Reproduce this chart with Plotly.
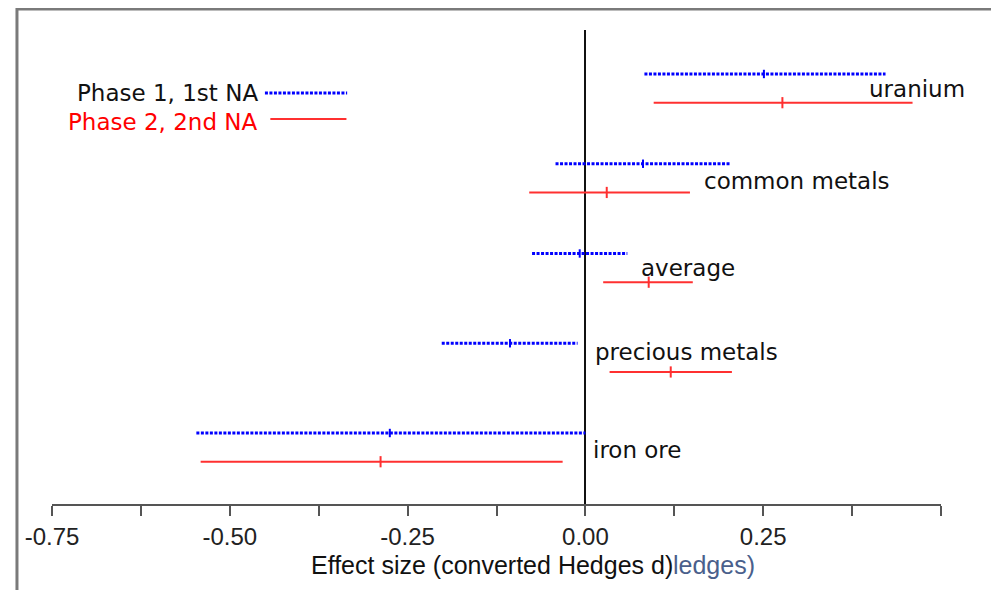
import plotly.graph_objects as go

categories = ["iron ore", "precious metals", "average", "common metals", "uranium"]
phase1_mean = [-0.275, -0.106, -0.008, 0.081, 0.251]
phase1_low = [-0.547, -0.202, -0.075, -0.042, 0.083]
phase1_high = [0.000, -0.011, 0.059, 0.203, 0.422]
phase2_mean = [-0.288, 0.120, 0.089, 0.030, 0.277]
phase2_low = [-0.541, 0.034, 0.025, -0.079, 0.096]
phase2_high = [-0.032, 0.206, 0.151, 0.147, 0.460]
tick_vals = [-0.75, -0.625, -0.5, -0.375, -0.25, -0.125, 0.0, 0.125, 0.25, 0.375, 0.5]
tick_text = ["-0.75", "", "-0.50", "", "-0.25", "", "0.00", "", "0.25", "", ""]
label_x = [0.0085, 0.010, 0.075, 0.164, 0.3955]
label_dy = [-0.19, -0.095, -0.16, -0.19, -0.17]

BLUE = "#0000ff"
RED = "#ff3030"
RED_OFF = -0.32
LABEL_FONT = "DejaVu Sans"

fig = go.Figure()
for i, cat in enumerate(categories):
    yb = i
    yr = i + RED_OFF
    fig.add_trace(go.Scatter(x=[phase1_low[i], phase1_high[i]], y=[yb, yb], mode="lines",
                             line=dict(color=BLUE, width=3, dash="3px,1.5px"),
                             showlegend=False, hoverinfo="skip"))
    fig.add_trace(go.Scatter(x=[phase1_mean[i]], y=[yb], mode="markers",
                             marker=dict(symbol="line-ns", size=6, line=dict(color=BLUE, width=2)),
                             showlegend=False, name=cat))
    fig.add_trace(go.Scatter(x=[phase2_low[i], phase2_high[i]], y=[yr, yr], mode="lines",
                             line=dict(color=RED, width=2),
                             showlegend=False, hoverinfo="skip"))
    fig.add_trace(go.Scatter(x=[phase2_mean[i]], y=[yr], mode="markers",
                             marker=dict(symbol="line-ns", size=8, line=dict(color=RED, width=2)),
                             showlegend=False, name=cat))
    fig.add_annotation(x=label_x[i], y=i + label_dy[i], xref="x", yref="y", text=cat,
                       showarrow=False, xanchor="left", yanchor="middle",
                       font=dict(family=LABEL_FONT, size=23, color="#111111"))

# legend
fig.add_annotation(x=-0.458, y=0.867, xref="x", yref="paper", text="Phase 1, 1st NA",
                   showarrow=False, xanchor="right", yanchor="middle",
                   font=dict(family=LABEL_FONT, size=23, color="#111111"))
fig.add_annotation(x=-0.458, y=0.805, xref="x", yref="paper", text="Phase 2, 2nd NA",
                   showarrow=False, xanchor="right", yanchor="middle",
                   font=dict(family=LABEL_FONT, size=23, color="#ff0000"))
fig.add_shape(type="line", xref="x", yref="paper", x0=-0.4506, x1=-0.335, y0=0.867, y1=0.867,
              line=dict(color=BLUE, width=3, dash="3px,1.5px"))
fig.add_shape(type="line", xref="x", yref="paper", x0=-0.443, x1=-0.336, y0=0.812, y1=0.812,
              line=dict(color=RED, width=2))

# axis title
fig.add_annotation(x=-0.389, y=-0.129, xref="x", yref="paper",
                   text="Effect size (converted Hedges d)", showarrow=False,
                   xanchor="left", yanchor="middle",
                   font=dict(family="Liberation Sans, Arial", size=25, color="#111111"))
fig.add_annotation(x=0.12, y=-0.129, xref="x", yref="paper",
                   text="ledges)", showarrow=False, xanchor="left", yanchor="middle",
                   font=dict(family="Liberation Sans, Arial", size=25, color="#4a5f8c"))

# outer frame
fig.add_shape(type="rect", xref="paper", yref="paper", x0=-0.0394, x1=1.0619, y0=-0.3, y1=1.0443,
              line=dict(color="#7a7a7a", width=3), layer="below")

fig.update_layout(
    width=991, height=582,
    margin=dict(l=44, r=58, t=22, b=86),
    plot_bgcolor="white", paper_bgcolor="white",
    xaxis=dict(range=[-0.75, 0.5], tickvals=tick_vals, ticktext=tick_text,
               showgrid=False, zeroline=True, zerolinecolor="#111111", zerolinewidth=1.5,
               showline=True, linecolor="#555555", linewidth=2,
               ticks="outside", ticklen=10, tickwidth=2, tickcolor="#555555",
               tickfont=dict(family="Liberation Sans, Arial", size=24, color="#222222")),
    yaxis=dict(range=[-0.791, 4.49], showgrid=False, zeroline=False, showline=False,
               showticklabels=False, ticks=""),
)

fig.write_html("out.html")
